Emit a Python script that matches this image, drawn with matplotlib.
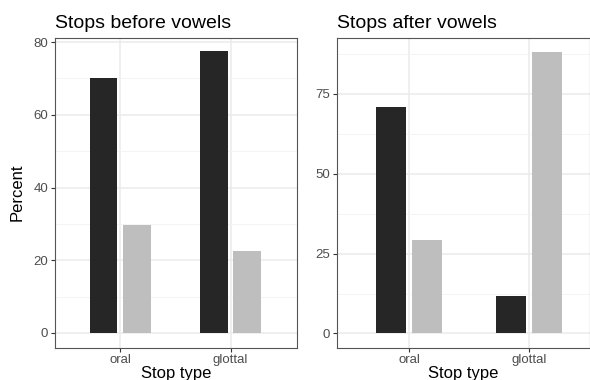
import numpy as np
import matplotlib
matplotlib.use("Agg")
from matplotlib import pyplot as plt
from matplotlib.ticker import MultipleLocator

plt.rcParams['font.family'] = ['Liberation Sans', 'DejaVu Sans']

categories = ["oral", "glottal"]
before_dark = [70.2, 77.5]
before_light = [29.8, 22.5]
after_dark = [70.8, 11.8]
after_light = [29.2, 88.2]

DARK = "#262626"
LIGHT = "#bebebe"


def style_panel(ax, title, ylim, major, minor):
    """ggplot theme_bw look."""
    ax.set_xlim(0.41, 2.6)
    ax.set_ylim(*ylim)
    ax.yaxis.set_major_locator(MultipleLocator(major))
    ax.yaxis.set_minor_locator(MultipleLocator(minor))
    ax.set_xticks([1, 2])
    ax.set_xticklabels(categories)
    ax.set_axisbelow(True)
    ax.grid(which="major", color="#ebebeb", lw=1.1)
    ax.grid(which="minor", axis="y", color="#f2f2f2", lw=0.6)
    ax.tick_params(which="minor", length=0)
    ax.tick_params(which="major", length=3, color="#333333", labelsize=9.5,
                   labelcolor="#4d4d4d", pad=2)
    for s in ax.spines.values():
        s.set_color("#555555")
        s.set_linewidth(0.8)
    ax.set_title(title, loc="left", fontsize=14, pad=7)
    ax.set_xlabel("Stop type", fontsize=12, labelpad=0)


fig = plt.figure(figsize=(5.9, 3.8), dpi=100)
ax1 = fig.add_axes([0.0932, 0.0855, 0.410, 0.8153])
ax2 = fig.add_axes([0.5712, 0.0855, 0.428, 0.8153])

x = np.arange(1, len(categories) + 1)
w = 0.25
off = 0.15

ax1.bar(x - off, before_dark, width=w, color=DARK)
ax1.bar(x + off, before_light, width=w, color=LIGHT)
style_panel(ax1, "Stops before vowels", (-4.0, 81.2), 20, 10)
ax1.set_ylabel("Percent", fontsize=12, labelpad=6)

ax2.bar(x - off, after_dark, width=w, color=DARK)
ax2.bar(x + off, after_light, width=w, color=LIGHT)
style_panel(ax2, "Stops after vowels", (-4.4, 92.6), 25, 12.5)
ax2.set_xlim(0.4, 2.5)

fig.savefig("out.png", dpi=100)
